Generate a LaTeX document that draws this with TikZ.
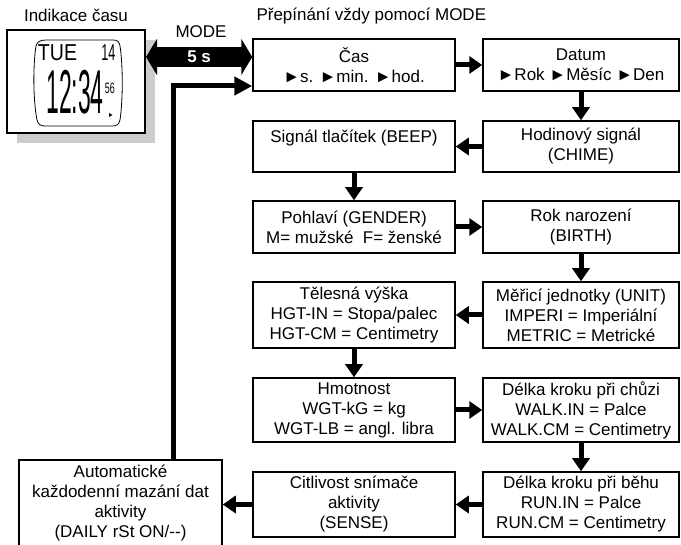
\documentclass[tikz,border=0pt]{standalone}
\usepackage{fontspec}
\setmainfont{Liberation Sans}
\usepackage{graphicx}
\usetikzlibrary{arrows.meta,positioning,calc}
\newcommand{\lcdtext}[3]{\scalebox{#1}[1]{\fontsize{#2}{#2}\selectfont #3}}

\begin{document}
\begin{tikzpicture}[x=1pt,y=-1pt,
  every node/.style={font=\fontsize{17}{20}\selectfont},
  krabice/.style={draw,line width=1.5pt,align=center,inner sep=0pt,minimum height=#1},
  lbox/.style={krabice=#1,minimum width=202pt},
  rbox/.style={krabice=#1,minimum width=196pt},
  sip/.style={line width=5pt,-{Triangle[width=17pt,length=13pt]}},
  zpet/.style={line width=5pt,-{Triangle[width=18pt,length=18pt]}},
  modesip/.style={line width=20pt,{Triangle[width=36pt,length=11pt]}-{Triangle[width=36pt,length=11pt]}}]
  \useasboundingbox (0,0) rectangle (681,545);
  % hodinky
  \node (popis) at (76,15) {Indikace času};
  \fill[gray!40] (17,40) rectangle (155,143);
  \node[draw,line width=2pt,fill=white,minimum width=138pt,minimum height=103pt] (hodinky) at (76,81.5) {};
  \draw[line width=0.8pt] (46,40) -- (113,40) .. controls (118,40) and (119,42) .. (120,46)
    .. controls (123,65) and (123,100) .. (120,120) .. controls (119,124) and (117,126) .. (113,126)
    -- (45,126) .. controls (40,126) and (38,124) .. (37,120)
    .. controls (33,100) and (33,65) .. (36,46) .. controls (37,42) and (40,40) .. (46,40) -- cycle;
  \node[inner sep=0pt] (den) at (57.5,52.5) {\lcdtext{0.85}{23}{TUE}};
  \node[inner sep=0pt] (datumlcd) at (108.5,52.5) {\lcdtext{0.55}{23}{14}};
  \node[inner sep=0pt] (cas12) at (75,92.5) {\lcdtext{0.37}{62}{12:34}};
  \node[inner sep=0pt] (sek) at (110,88) {\lcdtext{0.6}{15}{56}};
  \fill (109,113) -- (112.5,115) -- (109,117) -- cycle;
  % MODE
  \node (mode) at (201,32) {MODE};
  \node[anchor=west] (nadpis) at (253,16) {Přepínání vždy pomocí MODE};
  % krabice
  \node[lbox=52pt] (cas) at (354,65) {Čas\\►s. ►min. ►hod.};
  \node[rbox=52pt] (datum) at (581,65) {Datum\\►Rok ►Měsíc ►Den};
  \node[lbox=51pt] (beep) at (354,146.5) {Signál tlačítek (BEEP)\\\mbox{}};
  \node[rbox=51pt] (chime) at (581,146.5) {Hodinový signál\\(CHIME)};
  \node[lbox=52pt] (gender) at (354,227) {Pohlaví (GENDER)\\M= mužské\ \ F= ženské};
  \node[rbox=52pt] (birth) at (581,227) {Rok narození\\(BIRTH)};
  \node[lbox=66pt] (vyska) at (354,315) {Tělesná výška\\HGT-IN = Stopa/palec\\HGT-CM = Centimetry};
  \node[rbox=66pt] (unit) at (581,315) {Měřicí jednotky (UNIT)\\IMPERI = Imperiální\\METRIC = Metrické};
  \node[lbox=64pt] (hmot) at (354,410) {Hmotnost\\WGT-kG = kg\\WGT-LB = angl. libra};
  \node[rbox=64pt] (walk) at (581,410) {Délka kroku při chůzi\\WALK.IN = Palce\\WALK.CM = Centimetry};
  \node[lbox=65pt] (sense) at (354,504.5) {Citlivost snímače\\aktivity\\(SENSE)};
  \node[rbox=65pt] (run) at (581,504.5) {Délka kroku při běhu\\RUN.IN = Palce\\RUN.CM = Centimetry};
  \node[krabice=86pt,minimum width=203pt] (daily) at (120.5,503) {Automatické\\každodenní mazání dat\\aktivity\\(DAILY rSt ON/-{}-)};
  % sipky
  \coordinate (m) at ([yshift=8pt]cas.west);
  \draw[modesip] (hodinky.east |- m) -- (m)
    node[midway,text=white,font=\bfseries\fontsize{17}{20}\selectfont] (pet) {5 s};
  \draw[sip] (cas) -- (datum);
  \draw[sip] (datum) -- (chime);
  \draw[sip] (chime) -- (beep);
  \draw[sip] (beep) -- (gender);
  \draw[sip] (gender) -- (birth);
  \draw[sip] (birth) -- (unit);
  \draw[sip] (unit) -- (vyska);
  \draw[sip] (vyska) -- (hmot);
  \draw[sip] (hmot) -- (walk);
  \draw[sip] (walk) -- (run);
  \draw[sip] (run) -- (sense);
  \draw[sip] (sense) -- (sense -| daily.east);
  \draw[zpet] ([xshift=52.5pt]daily.north) |- ([yshift=-21pt]cas.west);
\end{tikzpicture}
\end{document}
